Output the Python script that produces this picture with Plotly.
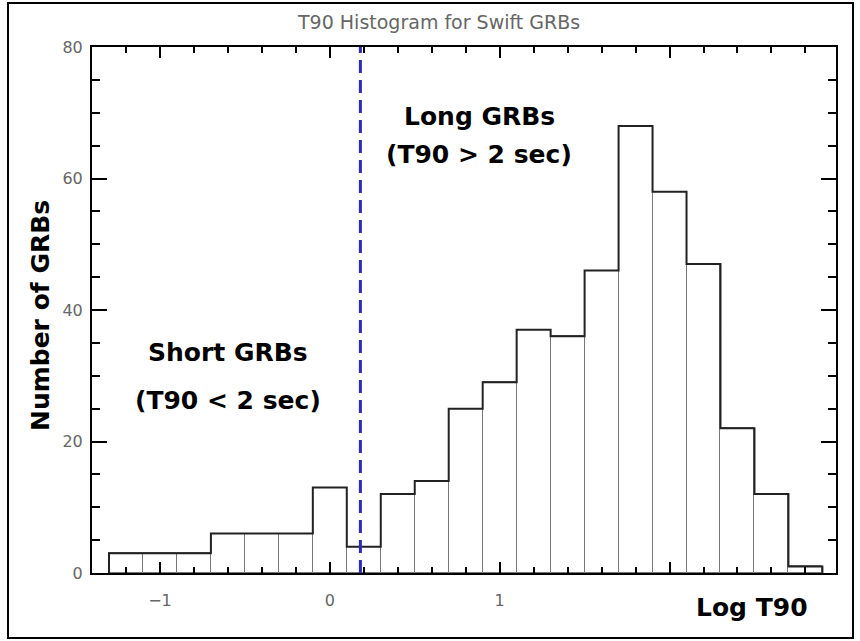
import numpy as np
import plotly.graph_objects as go

# Data: histogram of log T90 (bin width 0.2, centres)
bin_centers = [-1.2, -1.0, -0.8, -0.6, -0.4, -0.2, 0.0, 0.2, 0.4, 0.6, 0.8,
               1.0, 1.2, 1.4, 1.6, 1.8, 2.0, 2.2, 2.4, 2.6, 2.8]
counts = [3, 3, 3, 6, 6, 6, 13, 4, 12, 14, 25,
          29, 37, 36, 46, 68, 58, 47, 22, 12, 1]
bin_width = 0.2
divider_x = 0.18
x_tickvals = [-1, 0, 1, 2]
x_ticktext = ["\u22121", "0", "1", ""]
y_tickvals = [0, 20, 40, 60, 80]

edges = [c - bin_width / 2 for c in bin_centers] + [bin_centers[-1] + bin_width / 2]
step_x = [edges[0]] + edges
step_y = [0] + counts + [0]

fig = go.Figure()
fig.add_trace(go.Bar(x=bin_centers, y=counts, width=bin_width,
                     marker=dict(color="white", line=dict(color="#777777", width=1)),
                     showlegend=False, hoverinfo="skip"))
fig.add_trace(go.Scatter(x=step_x, y=step_y, mode="lines", line_shape="hv",
                         line=dict(color="#222222", width=2), showlegend=False))

fig.add_shape(type="line", x0=divider_x, x1=divider_x, y0=0, y1=80, xref="x", yref="y",
              line=dict(color="#2b2bb8", width=3, dash="13px,7px"))

# outer frame
L, R, T, B = 92, 836, 47, 573
W, H = R - L, B - T
fig.add_shape(type="rect", xref="paper", yref="paper",
              x0=(8 - L) / W, x1=(853 - L) / W, y0=(B - 638) / H, y1=(B - 3) / H,
              line=dict(color="black", width=2), fillcolor="rgba(0,0,0,0)", layer="below")

bold = dict(family="DejaVu Sans", size=25, color="black")
anns = [
    dict(x=-0.6, y=33.5, text="<b>Short GRBs</b>"),
    dict(x=-0.6, y=26.3, text="<b>(T90 &lt; 2 sec)</b>"),
    dict(x=0.88, y=69.5, text="<b>Long GRBs</b>"),
    dict(x=0.88, y=63.6, text="<b>(T90 &gt; 2 sec)</b>"),
]
for a in anns:
    fig.add_annotation(xref="x", yref="y", showarrow=False, font=bold,
                       xanchor="center", yanchor="middle", **a)
fig.add_annotation(xref="paper", yref="paper", x=(752 - L) / W, y=(B - 607) / H,
                   text="<b>Log T90</b>", showarrow=False, font=bold,
                   xanchor="center", yanchor="middle")
fig.add_annotation(xref="paper", yref="paper", x=(40 - L) / W, y=(B - 316) / H,
                   text="<b>Number of GRBs</b>", showarrow=False, font=bold, textangle=-90,
                   xanchor="center", yanchor="middle")
fig.add_annotation(xref="paper", yref="paper", x=(438 - L) / W, y=(B - 22) / H,
                   text="T90 Histogram for Swift GRBs", showarrow=False,
                   xanchor="center", yanchor="middle",
                   font=dict(family="DejaVu Sans", size=19, color="#666666"))

fig.update_layout(
    width=860, height=641,
    margin=dict(l=L, r=860 - R, t=T, b=641 - B),
    paper_bgcolor="white", plot_bgcolor="white",
    font=dict(family="DejaVu Sans", size=16, color="#666666"),
    bargap=0,
)
fig.update_xaxes(range=[-1.4, 2.98], tickvals=x_tickvals, ticktext=x_ticktext,
                 ticks="inside", ticklen=11, tickwidth=2, tickcolor="black",
                 ticklabelstandoff=12,
                 minor=dict(dtick=0.2, tick0=0, ticks="inside", ticklen=6, tickwidth=1.5, tickcolor="black"),
                 showline=True, linecolor="black", linewidth=2, mirror="ticks",
                 showgrid=False, zeroline=False, fixedrange=True)
fig.update_yaxes(range=[0, 80], tickvals=y_tickvals,
                 ticks="inside", ticklen=15, tickwidth=2, tickcolor="black",
                 ticklabelstandoff=4,
                 minor=dict(dtick=5, tick0=0, ticks="inside", ticklen=8, tickwidth=1.5, tickcolor="black"),
                 showline=True, linecolor="black", linewidth=2, mirror="ticks",
                 showgrid=False, zeroline=False, fixedrange=True)

fig.write_html("out.html")
